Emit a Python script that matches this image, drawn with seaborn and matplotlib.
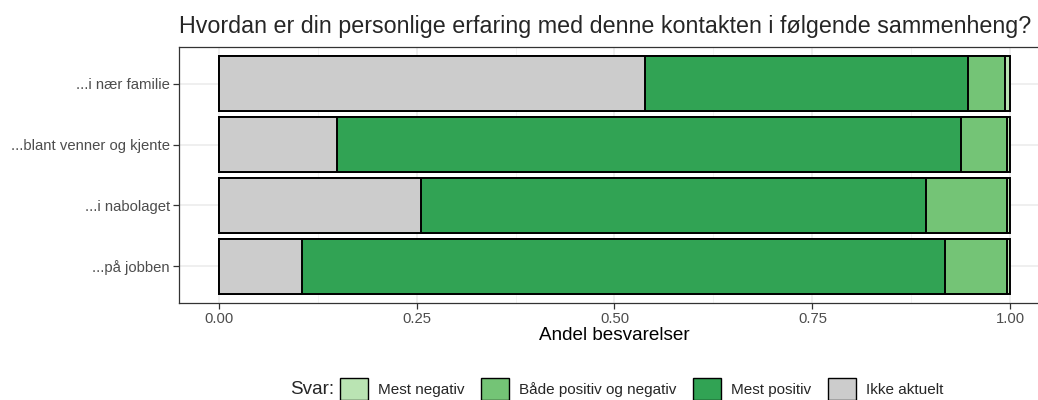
import pandas as pd
import matplotlib
matplotlib.use("Agg")
import matplotlib.pyplot as plt
import matplotlib.patches as mpatches
import seaborn as sns

# data (shares, left to right)
kontekst = ["...i nær familie", "...blant venner og kjente", "...i nabolaget", "...på jobben"]
ikke_aktuelt = [0.538, 0.150, 0.255, 0.105]
mest_positiv = [0.409, 0.787, 0.639, 0.813]
baade = [0.046, 0.059, 0.102, 0.078]
mest_negativ = [0.007, 0.004, 0.004, 0.004]

svar = ["Mest negativ", "Både positiv og negativ", "Mest positiv", "Ikke aktuelt"]
farger = {"Mest negativ": "#bae4b3", "Både positiv og negativ": "#74c476",
          "Mest positiv": "#31a354", "Ikke aktuelt": "#cccccc"}

df = pd.DataFrame({"kontekst": kontekst, "Ikke aktuelt": ikke_aktuelt,
                   "Mest positiv": mest_positiv, "Både positiv og negativ": baade,
                   "Mest negativ": mest_negativ})
# cumulative ends of each segment (stack order left to right)
stack = ["Ikke aktuelt", "Mest positiv", "Både positiv og negativ", "Mest negativ"]
cum = df[stack].cumsum(axis=1)
cum["kontekst"] = df["kontekst"]

sns.set_theme(style="white")
plt.rcParams["font.family"] = ["Liberation Sans", "DejaVu Sans"]

fig = plt.figure(figsize=(10.38, 4), dpi=100)
ax = fig.add_axes([179 / 1038, 97 / 400, 871 / 1038, 256 / 400])
ax.patch.set_visible(False)

# draw the longest cumulative bar first, then overlay the shorter ones
for s in reversed(stack):
    sns.barplot(data=cum, x=s, y="kontekst", order=kontekst, orient="h",
                color=farger[s], edgecolor="black", linewidth=1.4,
                width=0.9, saturation=1, ax=ax, zorder=3)

ax.set_xlim(-0.05, 1.05)
ax.set_ylim(3.6, -0.6)
ax.set_xticks([0, 0.25, 0.5, 0.75, 1.0])
ax.set_xticklabels(["0.00", "0.25", "0.50", "0.75", "1.00"])
ax.set_xticks([0.125, 0.375, 0.625, 0.875], minor=True)
ax.grid(True, which="major", color="#ebebeb", linewidth=1.1, zorder=0)
ax.grid(True, which="minor", axis="x", color="#f2f2f2", linewidth=0.6, zorder=0)
ax.set_axisbelow(True)
for sp in ax.spines.values():
    sp.set_color("#333333")
    sp.set_linewidth(0.9)
ax.spines["right"].set_visible(False)
# panel runs past the right edge of the picture, as in the reference
ax.spines["top"].set_bounds(-0.05, 1.0365)
ax.spines["bottom"].set_bounds(-0.05, 1.0365)
ax.tick_params(axis="both", which="major", length=4, width=0.9, color="#333333",
               labelcolor="#4d4d4d", labelsize=10.7, pad=2.5, left=True, bottom=True)
ax.tick_params(axis="x", which="minor", length=0)
ax.set_ylabel("")
ax.set_xlabel("Andel besvarelser", fontsize=13.6, color="black", labelpad=1)

fig.text(179 / 1038, 1 - 26 / 400, "Hvordan er din personlige erfaring med denne kontakten i følgende sammenheng?",
         fontsize=16.75, ha="left", va="center")

handles = [mpatches.Patch(facecolor=farger[s], edgecolor="black", linewidth=1.0) for s in svar]
fig.text(290 / 1038, 1 - 389 / 400, "Svar:", fontsize=13.6, ha="left", va="center")
fig.legend(handles, svar, loc="center left", bbox_to_anchor=(340 / 1038, 1 - 389 / 400),
           ncol=4, frameon=False, fontsize=11, handlelength=1.83, handleheight=1.83,
           handletextpad=0.65, columnspacing=1.1, borderpad=0, borderaxespad=0)

fig.savefig("out.png", dpi=100)
